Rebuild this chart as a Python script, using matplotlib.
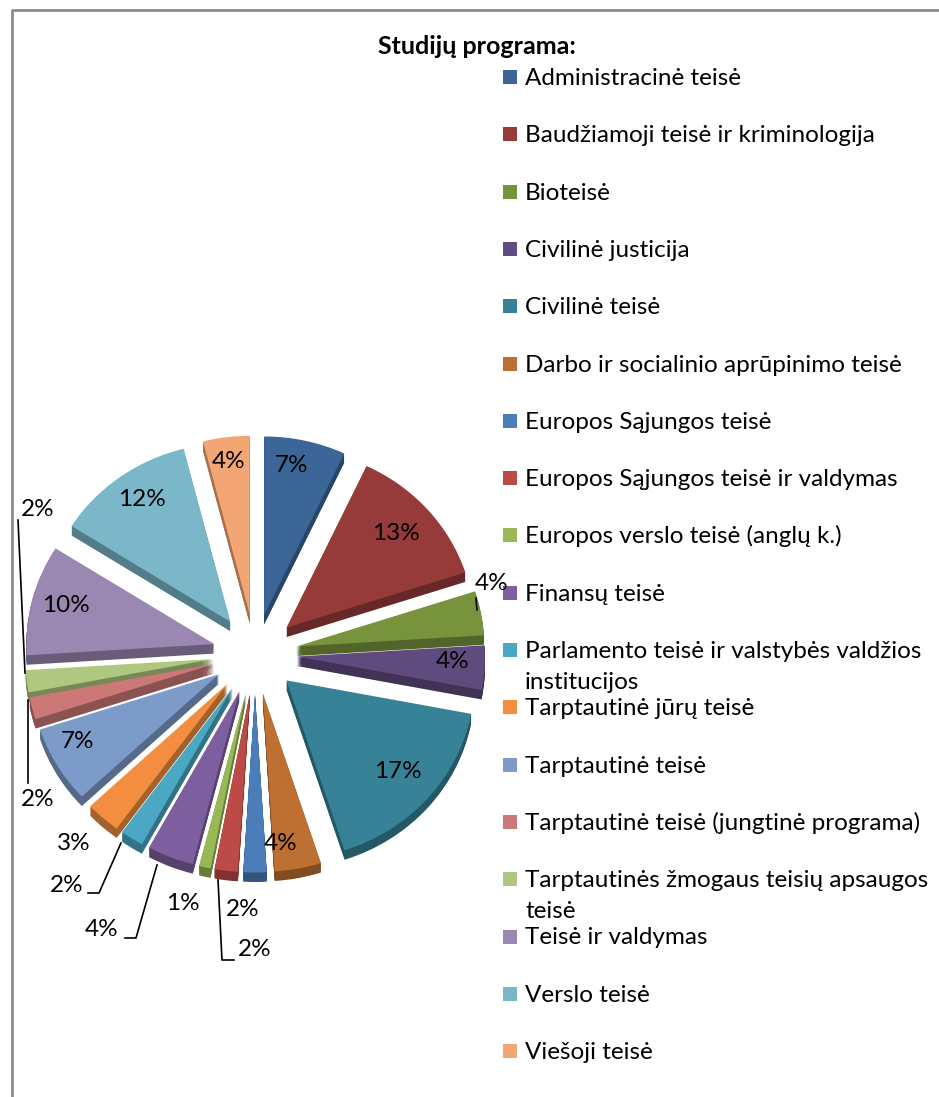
import matplotlib.pyplot as plt
import matplotlib.colors as mcolors
from matplotlib.patches import Rectangle

plt.rcParams['font.family'] = ['Lato', 'DejaVu Sans']

programs = [
    'Administracinė teisė',
    'Baudžiamoji teisė ir kriminologija',
    'Bioteisė',
    'Civilinė justicija',
    'Civilinė teisė',
    'Darbo ir socialinio aprūpinimo teisė',
    'Europos Sąjungos teisė',
    'Europos Sąjungos teisė ir valdymas',
    'Europos verslo teisė (anglų k.)',
    'Finansų teisė',
    'Parlamento teisė ir valstybės valdžios\ninstitucijos',
    'Tarptautinė jūrų teisė',
    'Tarptautinė teisė',
    'Tarptautinė teisė (jungtinė programa)',
    'Tarptautinės žmogaus teisių apsaugos\nteisė',
    'Teisė ir valdymas',
    'Verslo teisė',
    'Viešoji teisė',
]
shares = [7, 13, 4, 4, 17, 4, 2, 2, 1, 4, 2, 3, 7, 2, 2, 10, 12, 4]
colors = ['#3D6698', '#973B3A', '#77933C', '#5F4B7E', '#378297', '#BD7032',
          '#4A7DBA', '#BC4A47', '#98B855', '#7D5F9F', '#4BA8C4', '#F38E41',
          '#7D9BC8', '#CB7876', '#AFC77E', '#9B88B2', '#7AB7C9', '#F3A674']

# label placement in pixel coords (x, y), set by hand like in the original
label_pos = [(292, 466), (396, 533), (492, 584), (453, 661), (398, 771),
             (281, 843), (243, 910), (255, 950), (183, 903), (102, 930),
             (67, 885), (74, 843), (77, 741), (38, 800), (38, 510),
             (66, 605), (142, 500), (229, 462)]
leaders = [
    [(476, 598), (477, 610)],
    [(218, 880), (222, 960), (234, 960)],
    [(157, 865), (136, 938), (125, 938)],
    [(121, 843), (99, 893), (88, 893)],
    [(28, 700), (28, 783)],
    [(18, 520), (25, 673)],
]

W, H = 939, 1097
fig = plt.figure(figsize=(W / 100, H / 100), dpi=100)

# pie gets its own axes, slightly squashed vertically (3d tilt)
cx, cy, R, gap, depth, tilt = 255, 654, 188, 42, 10, 0.95
pax = fig.add_axes([0, 0, 1, 1])
dark = [tuple(c * 0.68 for c in mcolors.to_rgb(col)) for col in colors]

# side of the 3d pie: stack of darker copies shifted down
# (explode is in data units here, since radius != 1)
for d in range(depth, 0, -1):
    pax.pie(shares, colors=dark, startangle=-90, counterclock=True,
            radius=R, center=(cx, cy + d), explode=[gap] * len(shares),
            wedgeprops=dict(linewidth=0))
pax.pie(shares, colors=colors, startangle=-90, counterclock=True,
        radius=R, center=(cx, cy), explode=[gap] * len(shares),
        wedgeprops=dict(linewidth=0))
pax.set_aspect('auto')
pax.set_xlim(0, W)
pax.set_ylim(cy + (H - cy) / tilt, cy - cy / tilt)
pax.axis('off')

# overlay axes in plain pixel coords for texts and lines
ax = fig.add_axes([0, 0, 1, 1])
ax.set_xlim(0, W)
ax.set_ylim(H, 0)
ax.axis('off')

for v, (x, y) in zip(shares, label_pos):
    ax.text(x, y, f'{v}%', ha='center', va='center', fontsize=17.5)
for pts in leaders:
    ax.plot([p[0] for p in pts], [p[1] for p in pts], color='black', lw=1.2)

# legend
ax.text(378, 47, 'Studijų programa:', fontsize=18, fontweight='bold',
        ha='left', va='center')
for i, (name, col) in enumerate(zip(programs, colors)):
    y = 77 + i * 57.3
    ax.add_patch(Rectangle((503, y - 7), 14, 14, color=col, lw=0))
    for j, line in enumerate(name.split('\n')):
        ax.text(525, y + 8 + j * 31, line, ha='left', va='baseline',
                fontsize=17.5)

# chart border (partly cut off)
ax.plot([12, 12, W], [H, 10, 10], color='#8C8C8C', lw=2)

fig.savefig('out.png', dpi=100)
